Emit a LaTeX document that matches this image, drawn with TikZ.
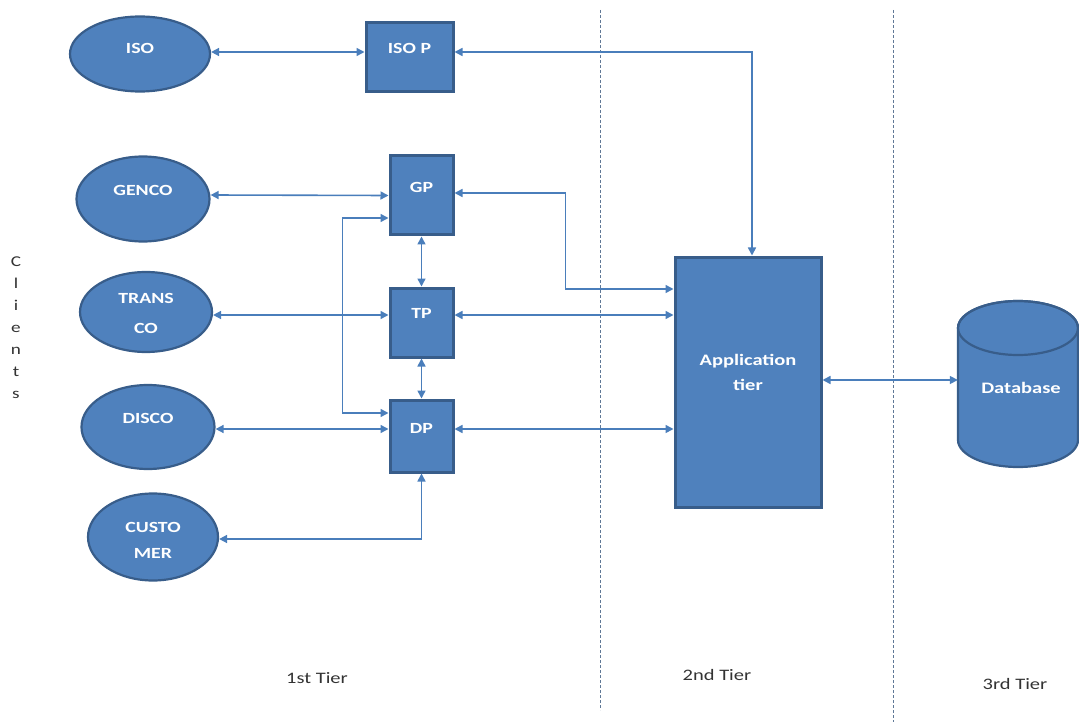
\documentclass[tikz,border=0pt]{standalone}
\usepackage{fontspec}
\setmainfont{Carlito}[FakeStretch=1.28]
\usetikzlibrary{arrows.meta,shapes.geometric}
\definecolor{fillblue}{HTML}{4F81BD}
\definecolor{edgeblue}{HTML}{385D8A}
\definecolor{linkblue}{HTML}{4A7EBB}
\definecolor{tiercol}{HTML}{5F7896}
\begin{document}
\begin{tikzpicture}[x=1pt,y=-1pt,
  client/.style={ellipse, draw=edgeblue, line width=2.2pt, fill=fillblue, inner sep=0pt},
  proc/.style={rectangle, draw=edgeblue, line width=3pt, fill=fillblue, inner sep=0pt},
  wlabel/.style={text=white, font=\bfseries\fontsize{15.5}{18}\selectfont, align=center, inner sep=0pt},
  biglabel/.style={text=white, font=\bfseries\fontsize{16}{25}\selectfont, align=center, inner sep=0pt},
  link/.style={draw=linkblue, line width=1.6pt, {Triangle[length=8pt,width=8pt]}-{Triangle[length=8pt,width=8pt]}},
  tierline/.style={draw=tiercol, line width=1pt, dash pattern=on 3pt off 2pt},
  tierlabel/.style={font=\fontsize{16}{19}\selectfont, text=black!80, inner sep=0pt}]
\useasboundingbox (0,0) rectangle (1079,722);

% tier separators
\coordinate (d1top) at (600,10);
\coordinate (d1bot) at (600,710);
\coordinate (d2top) at (893,10);
\coordinate (d2bot) at (893,722);
\draw[tierline] (d1top) -- (d1bot);
\draw[tierline] (d2top) -- (d2bot);

% clients
\node[client, minimum width=140, minimum height=75] (iso) at (140,54) {};
\node[client, minimum width=133, minimum height=85] (genco) at (143,199) {};
\node[client, minimum width=132, minimum height=80] (transco) at (146,312) {};
\node[client, minimum width=133, minimum height=84] (disco) at (148,427) {};
\node[client, minimum width=130, minimum height=87] (customer) at (153,537) {};

% proxies
\node[proc, minimum width=87, minimum height=69] (isop) at (409.5,57.5) {};
\node[proc, minimum width=63, minimum height=79] (gp) at (421.5,195.5) {};
\node[proc, minimum width=63, minimum height=69] (tp) at (421.5,322.5) {};
\node[proc, minimum width=63, minimum height=72] (dp) at (421.5,436) {};

% application tier
\node[proc, minimum width=146, minimum height=250] (app) at (748,382) {};

% database cylinder
\node[minimum width=120, minimum height=166, inner sep=0pt] (db) at (1018,384) {};
\filldraw[fill=fillblue, draw=edgeblue, line width=2.2pt]
  (958,328) -- (958,440) arc[start angle=180, end angle=360, x radius=60pt, y radius=27pt]
  -- (1078,328) arc[start angle=0, end angle=180, x radius=60pt, y radius=27pt] -- cycle;
\draw[draw=edgeblue, line width=2.2pt] (1018,328) ellipse[x radius=60pt, y radius=27pt];

% labels inside shapes
\node[wlabel] (isoT) at (140,48) {ISO};
\node[wlabel] (gencoT) at (143,190) {GENCO};
\node[wlabel, font=\bfseries\fontsize{15.5}{30}\selectfont] (transcoT) at (146,313) {TRANS\\CO};
\node[wlabel] (discoT) at (148,418) {DISCO};
\node[wlabel, font=\bfseries\fontsize{15.5}{26}\selectfont] (customerT) at (153,540) {CUSTO\\MER};
\node[wlabel] (isopT) at (409.5,48) {ISO P};
\node[wlabel] (gpT) at (421.5,187) {GP};
\node[wlabel] (tpT) at (421.5,313) {TP};
\node[wlabel] (dpT) at (421.5,428) {DP};
\node[biglabel] (appT) at (748,372) {Application\\tier};
\node[biglabel] (dbT) at (1021,388) {Database};

% connectors
\draw[link] (iso.east |- 0,52) -- ([yshift=5.5pt]isop.west);
\draw[link] ([yshift=5.5pt]isop.east) -| ([xshift=4pt]app.north);
\draw[link] (genco.east |- 0,195) -- (gp.west);
\draw[link] ([yshift=-22.5pt]gp.west) -- ++(-46,0) |- ([yshift=23pt]dp.west);
\draw[link] (gp.south) -- (tp.north);
\draw[link] (tp.south) -- (dp.north);
\draw[link] (transco.east |- 0,315) -- ([yshift=7.5pt]tp.west);
\draw[link] (disco.east |- 0,429) -- ([yshift=7pt]dp.west);
\draw[link] (customer.east |- 0,539) -| (dp.south);
\draw[link] ([yshift=2.5pt]gp.east) -- ++(111,0) |- ([yshift=93pt]app.west);
\draw[link] ([yshift=7.5pt]tp.east) -- ([yshift=7.5pt]tp.east -| app.west);
\draw[link] ([yshift=7pt]dp.east) -- ([yshift=7pt]dp.east -| app.west);
\draw[link] ([yshift=2pt]app.east) -- ([yshift=2pt]app.east -| db.west);

% side and tier captions
\node[font=\fontsize{15}{22}\selectfont, align=center, inner sep=0pt, text=black!80] (clients) at (16,328) {C\\l\\i\\e\\n\\t\\s};
\node[tierlabel] (tier1) at (317,678) {1st Tier};
\node[tierlabel] (tier2) at (717,675) {2nd Tier};
\node[tierlabel] (tier3) at (1015,684) {3rd Tier};
\end{tikzpicture}
\end{document}
